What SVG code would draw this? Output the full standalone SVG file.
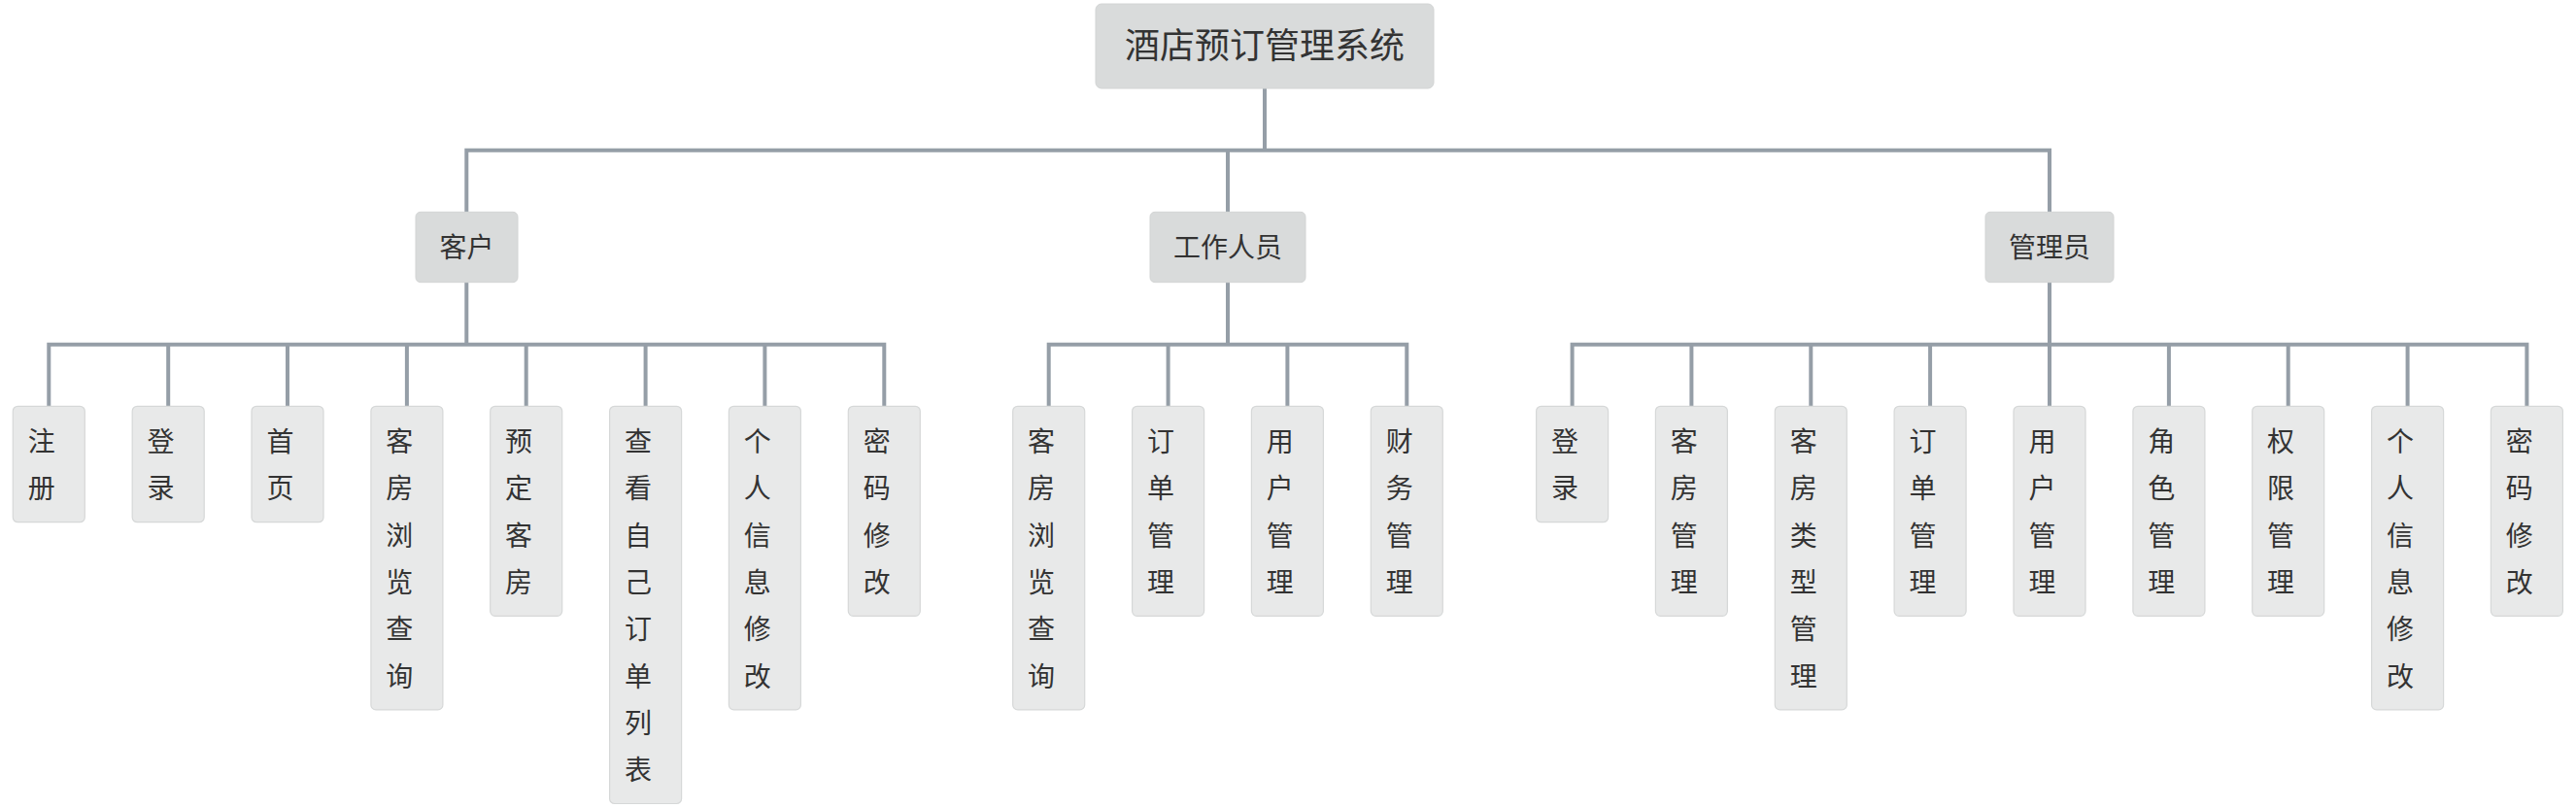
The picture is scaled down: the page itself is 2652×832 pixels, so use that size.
<svg xmlns="http://www.w3.org/2000/svg" width="2652" height="832" viewBox="0 0 2652 832">
<style>
.bg{fill:#ffffff}
.hub{fill:#d9dbdb;stroke:#d2d4d4;stroke-width:1}
.leaf{fill:#e8e9e9;stroke:#d6d8d8;stroke-width:1.2}
.t{font-family:"Noto Sans CJK SC","Noto Sans",sans-serif;fill:#333333}
.rt{font-size:36px;text-anchor:middle}
.mt{font-size:28px;text-anchor:middle}
.lt{font-size:28px;text-anchor:middle}
.con{fill:none;stroke:#959ea7;stroke-width:4;stroke-linejoin:miter;stroke-linecap:butt}
</style>
<rect class="bg" x="0" y="0" width="2652" height="832"/>
<g id="connectors">
<path class="con" d="M1302 91 V154.7 M480.3 218.3 V154.7 H2110 V218.3 M1264 154.7 V218.3"/>
<path class="con" d="M480.3 290.7 V354.7 M50.3 418.3 V354.7 H910.3 V418.3 M173.2 354.7 V418.3 M296 354.7 V418.3 M418.9 354.7 V418.3 M541.7 354.7 V418.3 M664.6 354.7 V418.3 M787.4 354.7 V418.3"/>
<path class="con" d="M1264 290.7 V354.7 M1079.7 418.3 V354.7 H1448.3 V418.3 M1202.6 354.7 V418.3 M1325.4 354.7 V418.3"/>
<path class="con" d="M2110 290.7 V354.7 M1618.6 418.3 V354.7 H2601.4 V418.3 M1741.4 354.7 V418.3 M1864.3 354.7 V418.3 M1987.1 354.7 V418.3 M2110 354.7 V418.3 M2232.9 354.7 V418.3 M2355.7 354.7 V418.3 M2478.6 354.7 V418.3"/>
</g>
<g id="root"><rect class="hub" x="1128" y="4" width="348" height="87" rx="6"/><text class="t rt" x="1302" y="60">酒店预订管理系统</text></g>
<g id="customer"><rect class="hub" x="428" y="218.3" width="105" height="72.4" rx="5"/><text class="t mt" x="480.5" y="264.5">客户</text></g>
<g id="staff"><rect class="hub" x="1184" y="218.3" width="160" height="72.4" rx="5"/><text class="t mt" x="1264" y="264.5">工作人员</text></g>
<g id="admin"><rect class="hub" x="2044" y="218.3" width="132" height="72.4" rx="5"/><text class="t mt" x="2110" y="264.5">管理员</text></g>

<g id="c1"><rect class="leaf" x="13.3" y="418.3" width="74" height="119.4" rx="5"/><text class="t lt"><tspan x="42.7" y="465">注</tspan><tspan x="42.7" y="513.3">册</tspan></text></g>
<g id="c2"><rect class="leaf" x="136.2" y="418.3" width="74" height="119.4" rx="5"/><text class="t lt"><tspan x="165.6" y="465">登</tspan><tspan x="165.6" y="513.3">录</tspan></text></g>
<g id="c3"><rect class="leaf" x="259" y="418.3" width="74" height="119.4" rx="5"/><text class="t lt"><tspan x="288.4" y="465">首</tspan><tspan x="288.4" y="513.3">页</tspan></text></g>
<g id="c4"><rect class="leaf" x="381.9" y="418.3" width="74" height="312.6" rx="5"/><text class="t lt"><tspan x="411.3" y="465">客</tspan><tspan x="411.3" y="513.3">房</tspan><tspan x="411.3" y="561.6">浏</tspan><tspan x="411.3" y="609.9">览</tspan><tspan x="411.3" y="658.2">查</tspan><tspan x="411.3" y="706.5">询</tspan></text></g>
<g id="c5"><rect class="leaf" x="504.7" y="418.3" width="74" height="216" rx="5"/><text class="t lt"><tspan x="534.1" y="465">预</tspan><tspan x="534.1" y="513.3">定</tspan><tspan x="534.1" y="561.6">客</tspan><tspan x="534.1" y="609.9">房</tspan></text></g>
<g id="c6"><rect class="leaf" x="627.6" y="418.3" width="74" height="409.2" rx="5"/><text class="t lt"><tspan x="657" y="465">查</tspan><tspan x="657" y="513.3">看</tspan><tspan x="657" y="561.6">自</tspan><tspan x="657" y="609.9">己</tspan><tspan x="657" y="658.2">订</tspan><tspan x="657" y="706.5">单</tspan><tspan x="657" y="754.8">列</tspan><tspan x="657" y="803.1">表</tspan></text></g>
<g id="c7"><rect class="leaf" x="750.4" y="418.3" width="74" height="312.6" rx="5"/><text class="t lt"><tspan x="779.8" y="465">个</tspan><tspan x="779.8" y="513.3">人</tspan><tspan x="779.8" y="561.6">信</tspan><tspan x="779.8" y="609.9">息</tspan><tspan x="779.8" y="658.2">修</tspan><tspan x="779.8" y="706.5">改</tspan></text></g>
<g id="c8"><rect class="leaf" x="873.3" y="418.3" width="74" height="216" rx="5"/><text class="t lt"><tspan x="902.7" y="465">密</tspan><tspan x="902.7" y="513.3">码</tspan><tspan x="902.7" y="561.6">修</tspan><tspan x="902.7" y="609.9">改</tspan></text></g>

<g id="s1"><rect class="leaf" x="1042.7" y="418.3" width="74" height="312.6" rx="5"/><text class="t lt"><tspan x="1072.1" y="465">客</tspan><tspan x="1072.1" y="513.3">房</tspan><tspan x="1072.1" y="561.6">浏</tspan><tspan x="1072.1" y="609.9">览</tspan><tspan x="1072.1" y="658.2">查</tspan><tspan x="1072.1" y="706.5">询</tspan></text></g>
<g id="s2"><rect class="leaf" x="1165.6" y="418.3" width="74" height="216" rx="5"/><text class="t lt"><tspan x="1195" y="465">订</tspan><tspan x="1195" y="513.3">单</tspan><tspan x="1195" y="561.6">管</tspan><tspan x="1195" y="609.9">理</tspan></text></g>
<g id="s3"><rect class="leaf" x="1288.4" y="418.3" width="74" height="216" rx="5"/><text class="t lt"><tspan x="1317.8" y="465">用</tspan><tspan x="1317.8" y="513.3">户</tspan><tspan x="1317.8" y="561.6">管</tspan><tspan x="1317.8" y="609.9">理</tspan></text></g>
<g id="s4"><rect class="leaf" x="1411.3" y="418.3" width="74" height="216" rx="5"/><text class="t lt"><tspan x="1440.7" y="465">财</tspan><tspan x="1440.7" y="513.3">务</tspan><tspan x="1440.7" y="561.6">管</tspan><tspan x="1440.7" y="609.9">理</tspan></text></g>

<g id="a1"><rect class="leaf" x="1581.6" y="418.3" width="74" height="119.4" rx="5"/><text class="t lt"><tspan x="1611" y="465">登</tspan><tspan x="1611" y="513.3">录</tspan></text></g>
<g id="a2"><rect class="leaf" x="1704.4" y="418.3" width="74" height="216" rx="5"/><text class="t lt"><tspan x="1733.8" y="465">客</tspan><tspan x="1733.8" y="513.3">房</tspan><tspan x="1733.8" y="561.6">管</tspan><tspan x="1733.8" y="609.9">理</tspan></text></g>
<g id="a3"><rect class="leaf" x="1827.3" y="418.3" width="74" height="312.6" rx="5"/><text class="t lt"><tspan x="1856.7" y="465">客</tspan><tspan x="1856.7" y="513.3">房</tspan><tspan x="1856.7" y="561.6">类</tspan><tspan x="1856.7" y="609.9">型</tspan><tspan x="1856.7" y="658.2">管</tspan><tspan x="1856.7" y="706.5">理</tspan></text></g>
<g id="a4"><rect class="leaf" x="1950.1" y="418.3" width="74" height="216" rx="5"/><text class="t lt"><tspan x="1979.5" y="465">订</tspan><tspan x="1979.5" y="513.3">单</tspan><tspan x="1979.5" y="561.6">管</tspan><tspan x="1979.5" y="609.9">理</tspan></text></g>
<g id="a5"><rect class="leaf" x="2073" y="418.3" width="74" height="216" rx="5"/><text class="t lt"><tspan x="2102.4" y="465">用</tspan><tspan x="2102.4" y="513.3">户</tspan><tspan x="2102.4" y="561.6">管</tspan><tspan x="2102.4" y="609.9">理</tspan></text></g>
<g id="a6"><rect class="leaf" x="2195.9" y="418.3" width="74" height="216" rx="5"/><text class="t lt"><tspan x="2225.3" y="465">角</tspan><tspan x="2225.3" y="513.3">色</tspan><tspan x="2225.3" y="561.6">管</tspan><tspan x="2225.3" y="609.9">理</tspan></text></g>
<g id="a7"><rect class="leaf" x="2318.7" y="418.3" width="74" height="216" rx="5"/><text class="t lt"><tspan x="2348.1" y="465">权</tspan><tspan x="2348.1" y="513.3">限</tspan><tspan x="2348.1" y="561.6">管</tspan><tspan x="2348.1" y="609.9">理</tspan></text></g>
<g id="a8"><rect class="leaf" x="2441.6" y="418.3" width="74" height="312.6" rx="5"/><text class="t lt"><tspan x="2471" y="465">个</tspan><tspan x="2471" y="513.3">人</tspan><tspan x="2471" y="561.6">信</tspan><tspan x="2471" y="609.9">息</tspan><tspan x="2471" y="658.2">修</tspan><tspan x="2471" y="706.5">改</tspan></text></g>
<g id="a9"><rect class="leaf" x="2564.4" y="418.3" width="74" height="216" rx="5"/><text class="t lt"><tspan x="2593.8" y="465">密</tspan><tspan x="2593.8" y="513.3">码</tspan><tspan x="2593.8" y="561.6">修</tspan><tspan x="2593.8" y="609.9">改</tspan></text></g>
</svg>
